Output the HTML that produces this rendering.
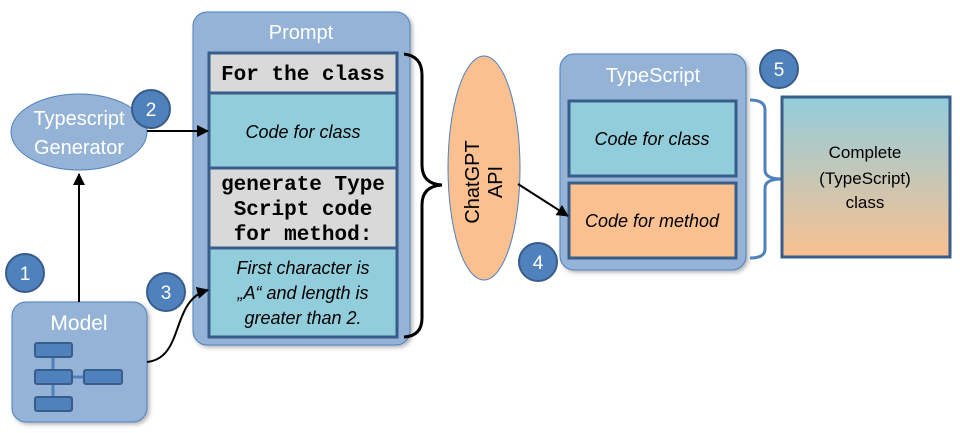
<!DOCTYPE html>
<html><head><meta charset="utf-8"><style>
html,body{margin:0;padding:0;background:#fff;width:960px;height:433px;overflow:hidden}
text{font-family:"Liberation Sans",sans-serif}
.mono{font-family:"Liberation Mono",monospace;font-weight:bold;font-size:21px}
.it{font-style:italic;font-size:18px}
</style></head><body>
<svg width="960" height="433" viewBox="0 0 960 433" xmlns="http://www.w3.org/2000/svg">
<defs>
<marker id="ar" markerWidth="12" markerHeight="12" refX="11" refY="6" orient="auto" markerUnits="userSpaceOnUse"><path d="M0,0 L12,6 L0,12 z" fill="#000"/></marker>
<linearGradient id="g" x1="0" y1="0" x2="0" y2="1"><stop offset="0" stop-color="#92cddc"/><stop offset="1" stop-color="#fac090"/></linearGradient>
<filter id="sh"><feDropShadow dx="2" dy="2" stdDeviation="2" flood-opacity="0.3"/></filter>
</defs>
<!-- Model -->
<rect x="12" y="302" width="135" height="120" rx="14" fill="#95b3d7" stroke="#4f81bd" filter="url(#sh)"/>
<text x="79" y="330" font-size="21" fill="#fff" text-anchor="middle">Model</text>
<line x1="53" y1="350" x2="53" y2="404" stroke="#4f81bd" stroke-width="3"/>
<line x1="72" y1="377" x2="84" y2="377" stroke="#4f81bd" stroke-width="3"/>
<g fill="#4f81bd" stroke="#385d8a" stroke-width="2">
<rect x="35" y="343" width="37" height="14" rx="2"/><rect x="35" y="370" width="37" height="14" rx="2"/>
<rect x="84" y="370" width="38" height="14" rx="2"/><rect x="35" y="397" width="37" height="14" rx="2"/></g>
<!-- Generator -->
<ellipse cx="79" cy="132" rx="68" ry="38" fill="#95b3d7" stroke="#4f81bd"/>
<text x="79" y="125" font-size="20" fill="#fff" text-anchor="middle">Typescript</text>
<text x="79" y="154" font-size="20" fill="#fff" text-anchor="middle">Generator</text>
<!-- Prompt -->
<rect x="193" y="12" width="217" height="333" rx="14" fill="#95b3d7" stroke="#4f81bd" filter="url(#sh)"/>
<text x="301" y="39" font-size="20" fill="#fff" text-anchor="middle">Prompt</text>
<g stroke="#385d8a" stroke-width="3">
<rect x="209" y="53" width="188" height="40" fill="#d9d9d9"/>
<rect x="209" y="93" width="188" height="75" fill="#92cddc"/>
<rect x="209" y="168" width="188" height="80" fill="#d9d9d9"/>
<rect x="209" y="248" width="188" height="89" fill="#92cddc"/></g>
<text x="303" y="80" class="mono" text-anchor="middle">For the class</text>
<text x="303" y="138" class="it" text-anchor="middle">Code for class</text>
<text x="303" y="190" class="mono" text-anchor="middle">generate Type</text>
<text x="303" y="215" class="mono" text-anchor="middle">Script code</text>
<text x="303" y="240" class="mono" text-anchor="middle">for method:</text>
<text x="303" y="274" class="it" text-anchor="middle">First character is</text>
<text x="303" y="299" class="it" text-anchor="middle">„A“ and length is</text>
<text x="303" y="324" class="it" text-anchor="middle">greater than 2.</text>
<!-- arrows -->
<line x1="79" y1="302" x2="79" y2="174" stroke="#000" stroke-width="2" marker-end="url(#ar)"/>
<line x1="147" y1="131" x2="208" y2="131" stroke="#000" stroke-width="2" marker-end="url(#ar)"/>
<path d="M147,362 C185,358 170,300 208,290" fill="none" stroke="#000" stroke-width="2" marker-end="url(#ar)"/>
<path d="M404,54 Q422,56 422,75 L422,165 Q422,184 442,185 Q422,186 422,205 L422,318 Q422,336 404,337" fill="none" stroke="#000" stroke-width="3"/>
<!-- ChatGPT -->
<ellipse cx="484" cy="168" rx="36" ry="112" fill="#fac090" stroke="#4f81bd"/>
<text transform="translate(479,182) rotate(-90)" font-size="20" text-anchor="middle">ChatGPT</text>
<text transform="translate(502,182) rotate(-90)" font-size="20" text-anchor="middle">API</text>
<!-- TypeScript -->
<rect x="560" y="54" width="186" height="216" rx="14" fill="#95b3d7" stroke="#4f81bd" filter="url(#sh)"/>
<text x="653" y="82" font-size="20" fill="#fff" text-anchor="middle">TypeScript</text>
<g stroke="#385d8a" stroke-width="3">
<rect x="569" y="101" width="167" height="75" fill="#92cddc"/>
<rect x="569" y="183" width="167" height="75" fill="#fac090"/></g>
<text x="652" y="145" class="it" text-anchor="middle">Code for class</text>
<text x="652" y="227" class="it" text-anchor="middle">Code for method</text>
<line x1="518" y1="184" x2="568" y2="216" stroke="#000" stroke-width="2" marker-end="url(#ar)"/>
<path d="M750,100 Q765,100 765,110 L765,170 Q765,179 782,179 Q765,179 765,188 L765,249 Q765,258 750,258" fill="none" stroke="#4f81bd" stroke-width="3"/>
<rect x="782" y="97" width="168" height="160" fill="url(#g)" stroke="#385d8a" stroke-width="3"/>
<text x="865" y="158" font-size="17" text-anchor="middle">Complete</text>
<text x="865" y="184" font-size="17" text-anchor="middle">(TypeScript)</text>
<text x="865" y="208" font-size="17" text-anchor="middle">class</text>
<!-- circles -->
<g fill="#4f81bd" stroke="#385d8a" stroke-width="2">
<circle cx="25" cy="273" r="19"/><circle cx="151" cy="109" r="19"/><circle cx="166" cy="292" r="19"/>
<circle cx="538" cy="262" r="19"/><circle cx="779" cy="69" r="19"/></g>
<g fill="#fff" font-size="19" text-anchor="middle">
<text x="25" y="280">1</text><text x="151" y="116">2</text><text x="166" y="299">3</text>
<text x="538" y="269">4</text><text x="779" y="76">5</text></g>
</svg>
</body></html>
